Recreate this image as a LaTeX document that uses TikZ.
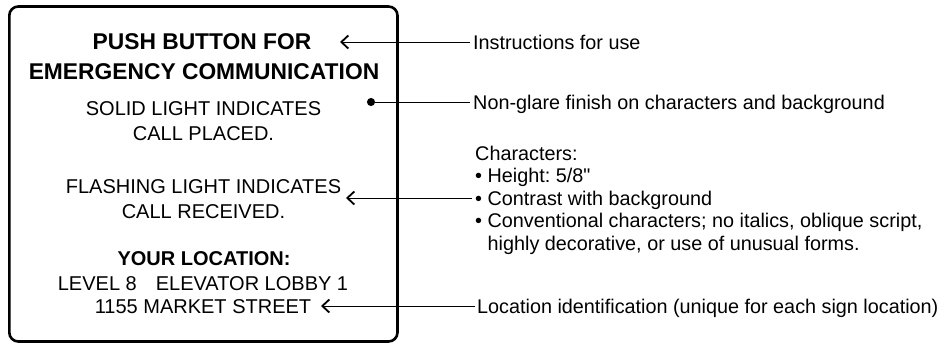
\documentclass[tikz,border=0pt]{standalone}
\usepackage{fontspec}
\setmainfont{Liberation Sans}
\newfontfamily\qfont{Liberation Sans}[Ligatures=ResetAll]
\usetikzlibrary{arrows.meta}
\frenchspacing
\begin{document}
\begin{tikzpicture}[x=1pt,y=-1pt,
  signtxt/.style={font=\fontsize{20}{24}\selectfont, anchor=base, inner sep=0pt},
  signhead/.style={font=\fontsize{22.8}{28}\selectfont\bfseries, anchor=base, inner sep=0pt},
  signbold/.style={font=\fontsize{20}{24}\selectfont\bfseries, anchor=base, inner sep=0pt},
  note/.style={font=\fontsize{19.8}{24}\selectfont\frenchspacing, anchor=west, inner sep=0pt, text height=14.3pt, text depth=0pt},
  leader/.style={line width=1pt},
  chev/.style={leader, -{Straight Barb[length=7pt,width=13pt,line width=1.8pt]}},
  dotend/.style={leader, -{Circle[length=8pt]}},
  frame/.style={line width=2.6pt, rounded corners=9pt}]
\useasboundingbox (0,0) rectangle (948,349);
% sign
\draw[frame] (9.3,6.5) rectangle (397.5,341.5);
\node[signhead] (push) at (202,49) {PUSH BUTTON FOR};
\node[signhead] (emerg) at (204,79) {EMERGENCY COMMUNICATION};
\node[signtxt] (solid) at (203.5,115) {SOLID LIGHT INDICATES};
\node[signtxt] (placed) at (203.5,140) {CALL PLACED.};
\node[signtxt] (flash) at (203.5,193) {FLASHING LIGHT INDICATES};
\node[signtxt] (recv) at (203.5,218) {CALL RECEIVED.};
\node[signbold] (yourloc) at (204,265) {YOUR LOCATION:};
\node[signtxt] (level) at (203,290) {LEVEL 8\hspace{19pt}ELEVATOR LOBBY 1};
\node[signtxt] (street) at (203,313) {1155 MARKET STREET};
% notes
\node[note] (instr) at (473,42) {Instructions for use};
\node[note] (glare) at (473,102) {Non-glare finish on characters and background};
\node[note] (chars) at (475,153) {Characters:};
\node[note] (height) at (475,175.5) {• Height: 5/8{\qfont"}};
\node[note] (contr) at (475,198) {• Contrast with background};
\node[note] (conv) at (475,220.5) {• Conventional characters; no italics, oblique script,};
\node[note] (conv2) at (487.5,243) {highly decorative, or use of unusual forms.};
\node[note] (locid) at (477,306) {Location identification (unique for each sign location)};
% connector ends
\coordinate (tipA) at (340,42);
\coordinate (tipB) at (367,102);
\coordinate (tipC) at (346,198);
\coordinate (tipD) at (321,306);
\draw[chev] ([xshift=-3pt]instr.west) -- (tipA);
\draw[dotend] ([xshift=-3pt]glare.west) -- (tipB);
\draw[chev] ([xshift=-3pt]contr.west) -- (tipC);
\draw[chev] ([xshift=-2pt]locid.west) -- (tipD);
\end{tikzpicture}
\end{document}
